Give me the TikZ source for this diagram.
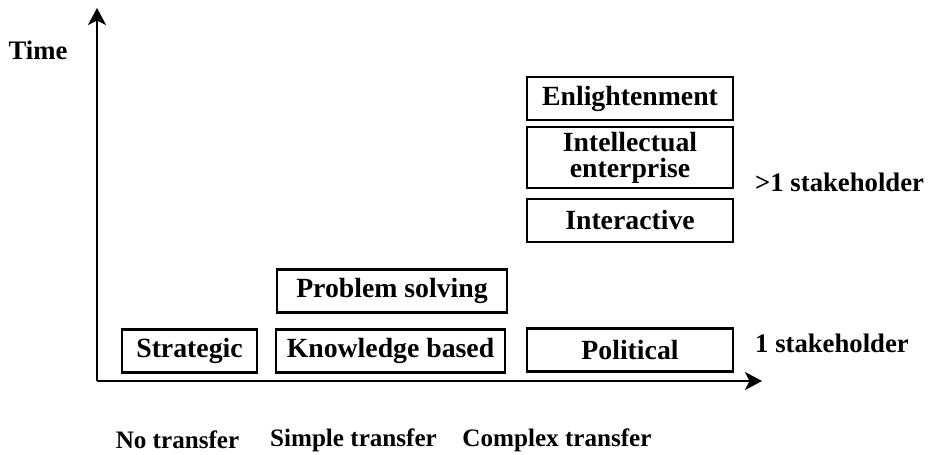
\documentclass[tikz,border=0pt]{standalone}
\usepackage{fontspec}
\setmainfont{Liberation Serif}
\usetikzlibrary{arrows.meta}

\begin{document}
\begin{tikzpicture}[x=0.02cm,y=0.02cm,
    font=\fontsize{15.2}{14.5}\selectfont\bfseries,
    axis/.style={line width=1.2pt,-{Stealth[length=0.34cm,width=0.36cm,inset=0.09cm]}},
    kind/.style={draw,line width=1.2pt,align=center,inner sep=0pt,
      minimum height=0.86cm,font=\fontsize{15.8}{14.8}\selectfont\bfseries},
    transfer/.style={font=\fontsize{14.3}{15}\selectfont\bfseries}]
\useasboundingbox (0,0) rectangle (935,455);
% axes
\coordinate (O) at (97,74);
\coordinate (ytip) at (97,447);
\coordinate (xtip) at (762,74);
\draw[axis] (O) -- (ytip);
\draw[axis] (O) -- (xtip);
\node (time) at (38,405) {Time};
% kinds of transfer
\node[kind,minimum width=2.7cm]  (strat) at (189.5,104) {Strategic};
\node[kind,minimum width=4.58cm] (know)  at (390.5,104) {Knowledge based};
\node[kind,minimum width=4.6cm]  (prob)  at (392,164)   {Problem solving};
\node[kind,minimum width=4.12cm] (pol)   at (630,105)   {Political};
\node[kind,minimum width=4.12cm] (inter) at (630,234.5) {Interactive};
\node[kind,minimum width=4.12cm,minimum height=1.22cm] (intel) at (630,297.5) {Intellectual\\enterprise};
\node[kind,minimum width=4.12cm] (enl)   at (630,356.5) {Enlightenment};
% stakeholders
\node[anchor=west] (one)  at (749,112) {1 stakeholder};
\node[anchor=west] (many) at (749,273) {>1 stakeholder};
% transfer
\node[transfer] (none)    at (177.5,15) {No transfer};
\node[transfer] (simple)  at (353.5,15) {Simple transfer};
\node[transfer] (complex) at (557,15)   {Complex transfer};
\end{tikzpicture}
\end{document}
